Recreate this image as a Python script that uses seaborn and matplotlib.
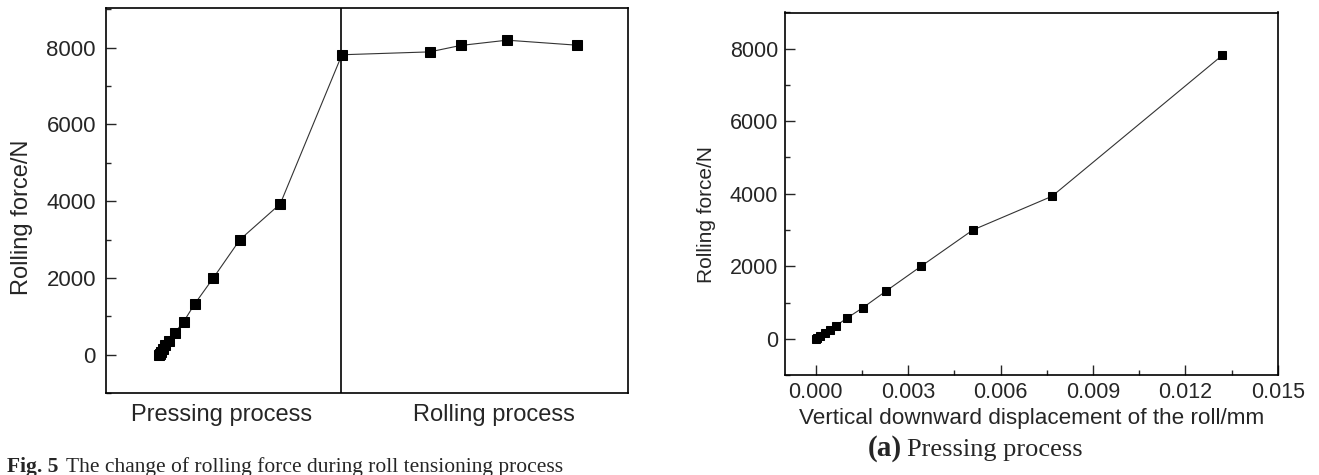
import numpy as np
import pandas as pd
import matplotlib
matplotlib.use("Agg")
import matplotlib.pyplot as plt
import seaborn as sns

# ---- data ----
# Fig.5 (left): rolling force during the whole roll tensioning process
press_time = [1.02, 1.03, 1.05, 1.09, 1.14, 1.21, 1.32, 1.49, 1.70, 2.06, 2.57, 3.34, 4.52]
press_force = [0, 20, 64, 155, 249, 359, 569, 856, 1315, 2000, 3000, 3930, 7818]
roll_time = [6.20, 6.79, 7.68, 9.01]
roll_force = [7893, 8060, 8198, 8068]
phase_boundary = 4.5
phase_labels = ["Pressing process", "Rolling process"]
phase_label_pos = [2.21, 7.43]

# (a) Pressing process: force vs vertical displacement
disp = [0.0, 0.00005, 0.00014, 0.00031, 0.00047, 0.00066, 0.00101, 0.00153,
        0.00228, 0.00342, 0.00510, 0.00767, 0.01320]
force_a = [0, 20, 64, 155, 249, 359, 569, 856, 1315, 2000, 3000, 3930, 7818]

sns.set_theme(style="ticks")
plt.rcParams['font.family'] = ['Liberation Sans', 'DejaVu Sans']

fig = plt.figure(figsize=(13.19, 4.75), dpi=100)
W, H = 1319, 475
def box(l, t, r, b):
    return [l / W, 1 - b / H, (r - l) / W, (b - t) / H]

axL = fig.add_axes(box(105.7, 7.5, 628.3, 393))
axR = fig.add_axes(box(785, 12.5, 1277.7, 375))

dfL = pd.DataFrame({"t": press_time + roll_time, "F": press_force + roll_force})
sns.lineplot(data=dfL, x="t", y="F", ax=axL, sort=False, color="#333333", lw=0.8,
             marker="s", markersize=6.8, markerfacecolor="black", markeredgecolor="black")
axL.axvline(phase_boundary, color="black", lw=1.2)
axL.set_xlim(0, 10)
axL.set_ylim(-1000, 9050)
axL.set_yticks([0, 2000, 4000, 6000, 8000])
axL.set_yticks(np.arange(-1000, 9001, 1000), minor=True)
axL.set_xticks(phase_label_pos)
axL.set_xticklabels(phase_labels)
axL.tick_params(axis="x", length=0, labelsize=17, pad=8)
axL.tick_params(axis="y", which="major", direction="in", length=7, width=1, labelsize=16, pad=7)
axL.tick_params(axis="y", which="minor", direction="in", length=3.5, width=1)
axL.set_xlabel("")
axL.set_ylabel("Rolling force/N", fontsize=17)
axL.yaxis.set_label_coords(-0.140, 0.4565)

dfR = pd.DataFrame({"d": disp, "F": force_a})
sns.lineplot(data=dfR, x="d", y="F", ax=axR, sort=False, color="#333333", lw=0.8,
             marker="s", markersize=6, markerfacecolor="black", markeredgecolor="black")
axR.set_xlim(-0.001, 0.015)
axR.set_ylim(-1000, 9000)
axR.set_xticks([0, 0.003, 0.006, 0.009, 0.012, 0.015])
axR.set_xticklabels(["0.000", "0.003", "0.006", "0.009", "0.012", "0.015"])
axR.set_xticks(np.arange(0.0015, 0.015, 0.003), minor=True)
axR.set_yticks([0, 2000, 4000, 6000, 8000])
axR.set_yticks(np.arange(-1000, 9001, 1000), minor=True)
axR.tick_params(which="major", direction="in", length=7, width=1, labelsize=15.5)
axR.tick_params(which="minor", direction="in", length=3.5, width=1)
axR.tick_params(axis="y", pad=5)
axR.tick_params(axis="x", pad=5)
axR.set_xlabel("Vertical downward displacement of the roll/mm", fontsize=16.2, labelpad=3.5)
axR.set_ylabel("Rolling force/N", fontsize=15)
axR.yaxis.set_label_coords(-0.140, 0.444)

for ax in (axL, axR):
    for s in ax.spines.values():
        s.set_visible(True)
        s.set_linewidth(1.2)
        s.set_color("black")

serif = ['Liberation Serif', 'DejaVu Serif']
fig.text(7 / W, 1 - 472 / H, "Fig. 5", family=serif, fontsize=15.5, fontweight="bold", va="baseline")
fig.text(66 / W, 1 - 472 / H, "The change of rolling force during roll tensioning process",
         family=serif, fontsize=15.5, va="baseline")
fig.text(868 / W, 1 - 456 / H, "(a)", family=serif, fontsize=21, fontweight="bold", va="baseline")
fig.text(907 / W, 1 - 456 / H, "Pressing process", family=serif, fontsize=19, va="baseline")

fig.savefig("out.png", dpi=100)
